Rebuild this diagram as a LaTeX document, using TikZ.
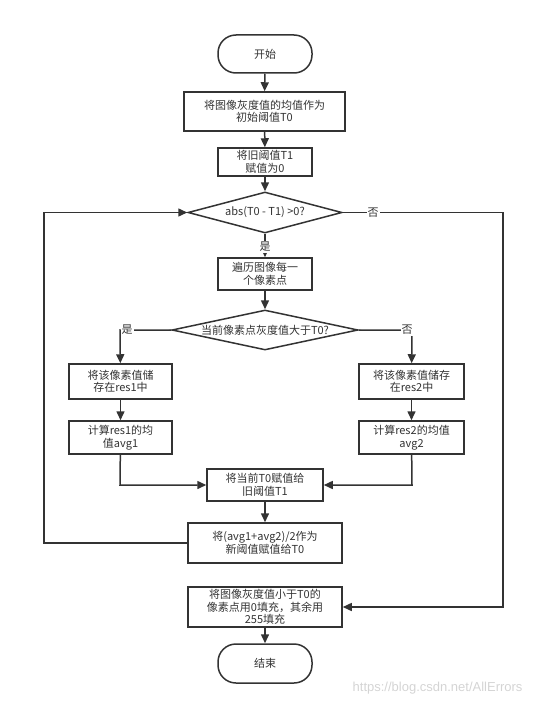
\documentclass[tikz,border=0pt]{standalone}
\usepackage{fontspec}
\setmainfont{Noto Sans CJK SC}
\newfontfamily\wmfont{Liberation Sans}
\usetikzlibrary{shapes.geometric,arrows.meta}
\definecolor{ink}{HTML}{333333}
\definecolor{wm}{HTML}{D4D4D4}
\tikzset{
  every node/.style={font=\fontsize{11}{12.5}\selectfont, text=ink},
  boxnode/.style={draw=ink, line width=1.5pt, fill=white, inner sep=0pt, align=center},
  termnode/.style={boxnode, rounded corners=18pt},
  dianode/.style={draw=ink, line width=1.5pt, fill=white, shape=diamond, inner sep=0pt, shape aspect=3},
  flow/.style={draw=ink, line width=1.5pt, -{Triangle[length=9pt,width=8pt]}},
  lbl/.style={fill=white, inner sep=1pt}
}
\begin{document}
\begin{tikzpicture}[x=1pt,y=-1pt]
\useasboundingbox (0,0) rectangle (534,706);
\node[termnode, minimum width=94pt, minimum height=38pt] (start) at (265,54) {开始};
\node[boxnode, minimum width=161pt, minimum height=39pt] (b1) at (264.5,111.5) {将图像灰度值的均值作为\\初始阈值T0};
\node[boxnode, minimum width=94pt, minimum height=28pt] (b2) at (265,162) {将旧阈值T1\\赋值为0};
\node[dianode, minimum width=154pt, minimum height=41pt] (d1) at (265,212.5) {\makebox[0pt]{abs(T0 - T1) >0?}};
\node[boxnode, minimum width=94pt, minimum height=32pt] (b3) at (265,274) {遍历图像每一\\个像素点};
\node[dianode, minimum width=186pt, minimum height=40pt] (d2) at (265,330) {\makebox[0pt]{当前像素点灰度值大于T0?}};
\node[boxnode, minimum width=103pt, minimum height=35pt] (l1) at (120.5,381.5) {将该像素值储\\存在res1中};
\node[boxnode, minimum width=103pt, minimum height=33pt] (l2) at (120.5,437.5) {计算res1的均\\值avg1};
\node[boxnode, minimum width=105pt, minimum height=35pt] (r1) at (411.5,381.5) {将该像素值储存\\在res2中};
\node[boxnode, minimum width=105pt, minimum height=33pt] (r2) at (411.5,437.5) {计算res2的均值\\avg2};
\node[boxnode, minimum width=116pt, minimum height=32pt] (c1) at (265,485) {将当前T0赋值给\\旧阈值T1};
\node[boxnode, minimum width=154pt, minimum height=40pt] (c2) at (265,543) {将(avg1+avg2)/2作为\\新阈值赋值给T0};
\node[boxnode, minimum width=154pt, minimum height=40pt] (fill) at (265,607) {将图像灰度值小于T0的\\像素点用0填充，其余用\\255填充};
\node[termnode, minimum width=94pt, minimum height=39pt] (end) at (265,663.5) {结束};

\coordinate (cl) at (120,330);
\coordinate (cr) at (412,330);
\coordinate (ml) at (120,485);
\coordinate (mr) at (412,485);
\coordinate (lb) at (44,543);
\coordinate (lt) at (44,212.5);
\coordinate (rt) at (503,212.5);
\coordinate (rb) at (503,607);

\draw[flow] (start) -- (b1);
\draw[flow] (b1) -- (b2);
\draw[flow] (b2) -- (d1);
\draw[flow] (d1) -- (b3) node[lbl, pos=0.55] {是};
\draw[flow] (b3) -- (d2);
\draw[flow] (d2.west) -- (cl) -- (l1);
\draw[flow] (d2.east) -- (cr) -- (r1);
\node[lbl] (yes2) at (127,330) {是};
\node[lbl] (no2) at (407,330) {否};
\draw[flow] (l1) -- (l2);
\draw[flow] (r1) -- (r2);
\draw[flow] (l2) -- (ml) -- (c1);
\draw[flow] (r2) -- (mr) -- (c1);
\draw[flow] (c1) -- (c2);
\draw[flow] (c2.west) -- (lb) -- (lt) -- (d1.west);
\draw[flow] (d1.east) -- (rt) -- (rb) -- (fill);
\node[lbl] (no1) at (373,212.5) {否};
\draw[flow] (fill) -- (end);
\node[anchor=east, text=wm, font=\wmfont\fontsize{13}{13}\selectfont] (mark) at (526,688) {https://blog.csdn.net/AllErrors};
\end{tikzpicture}
\end{document}
